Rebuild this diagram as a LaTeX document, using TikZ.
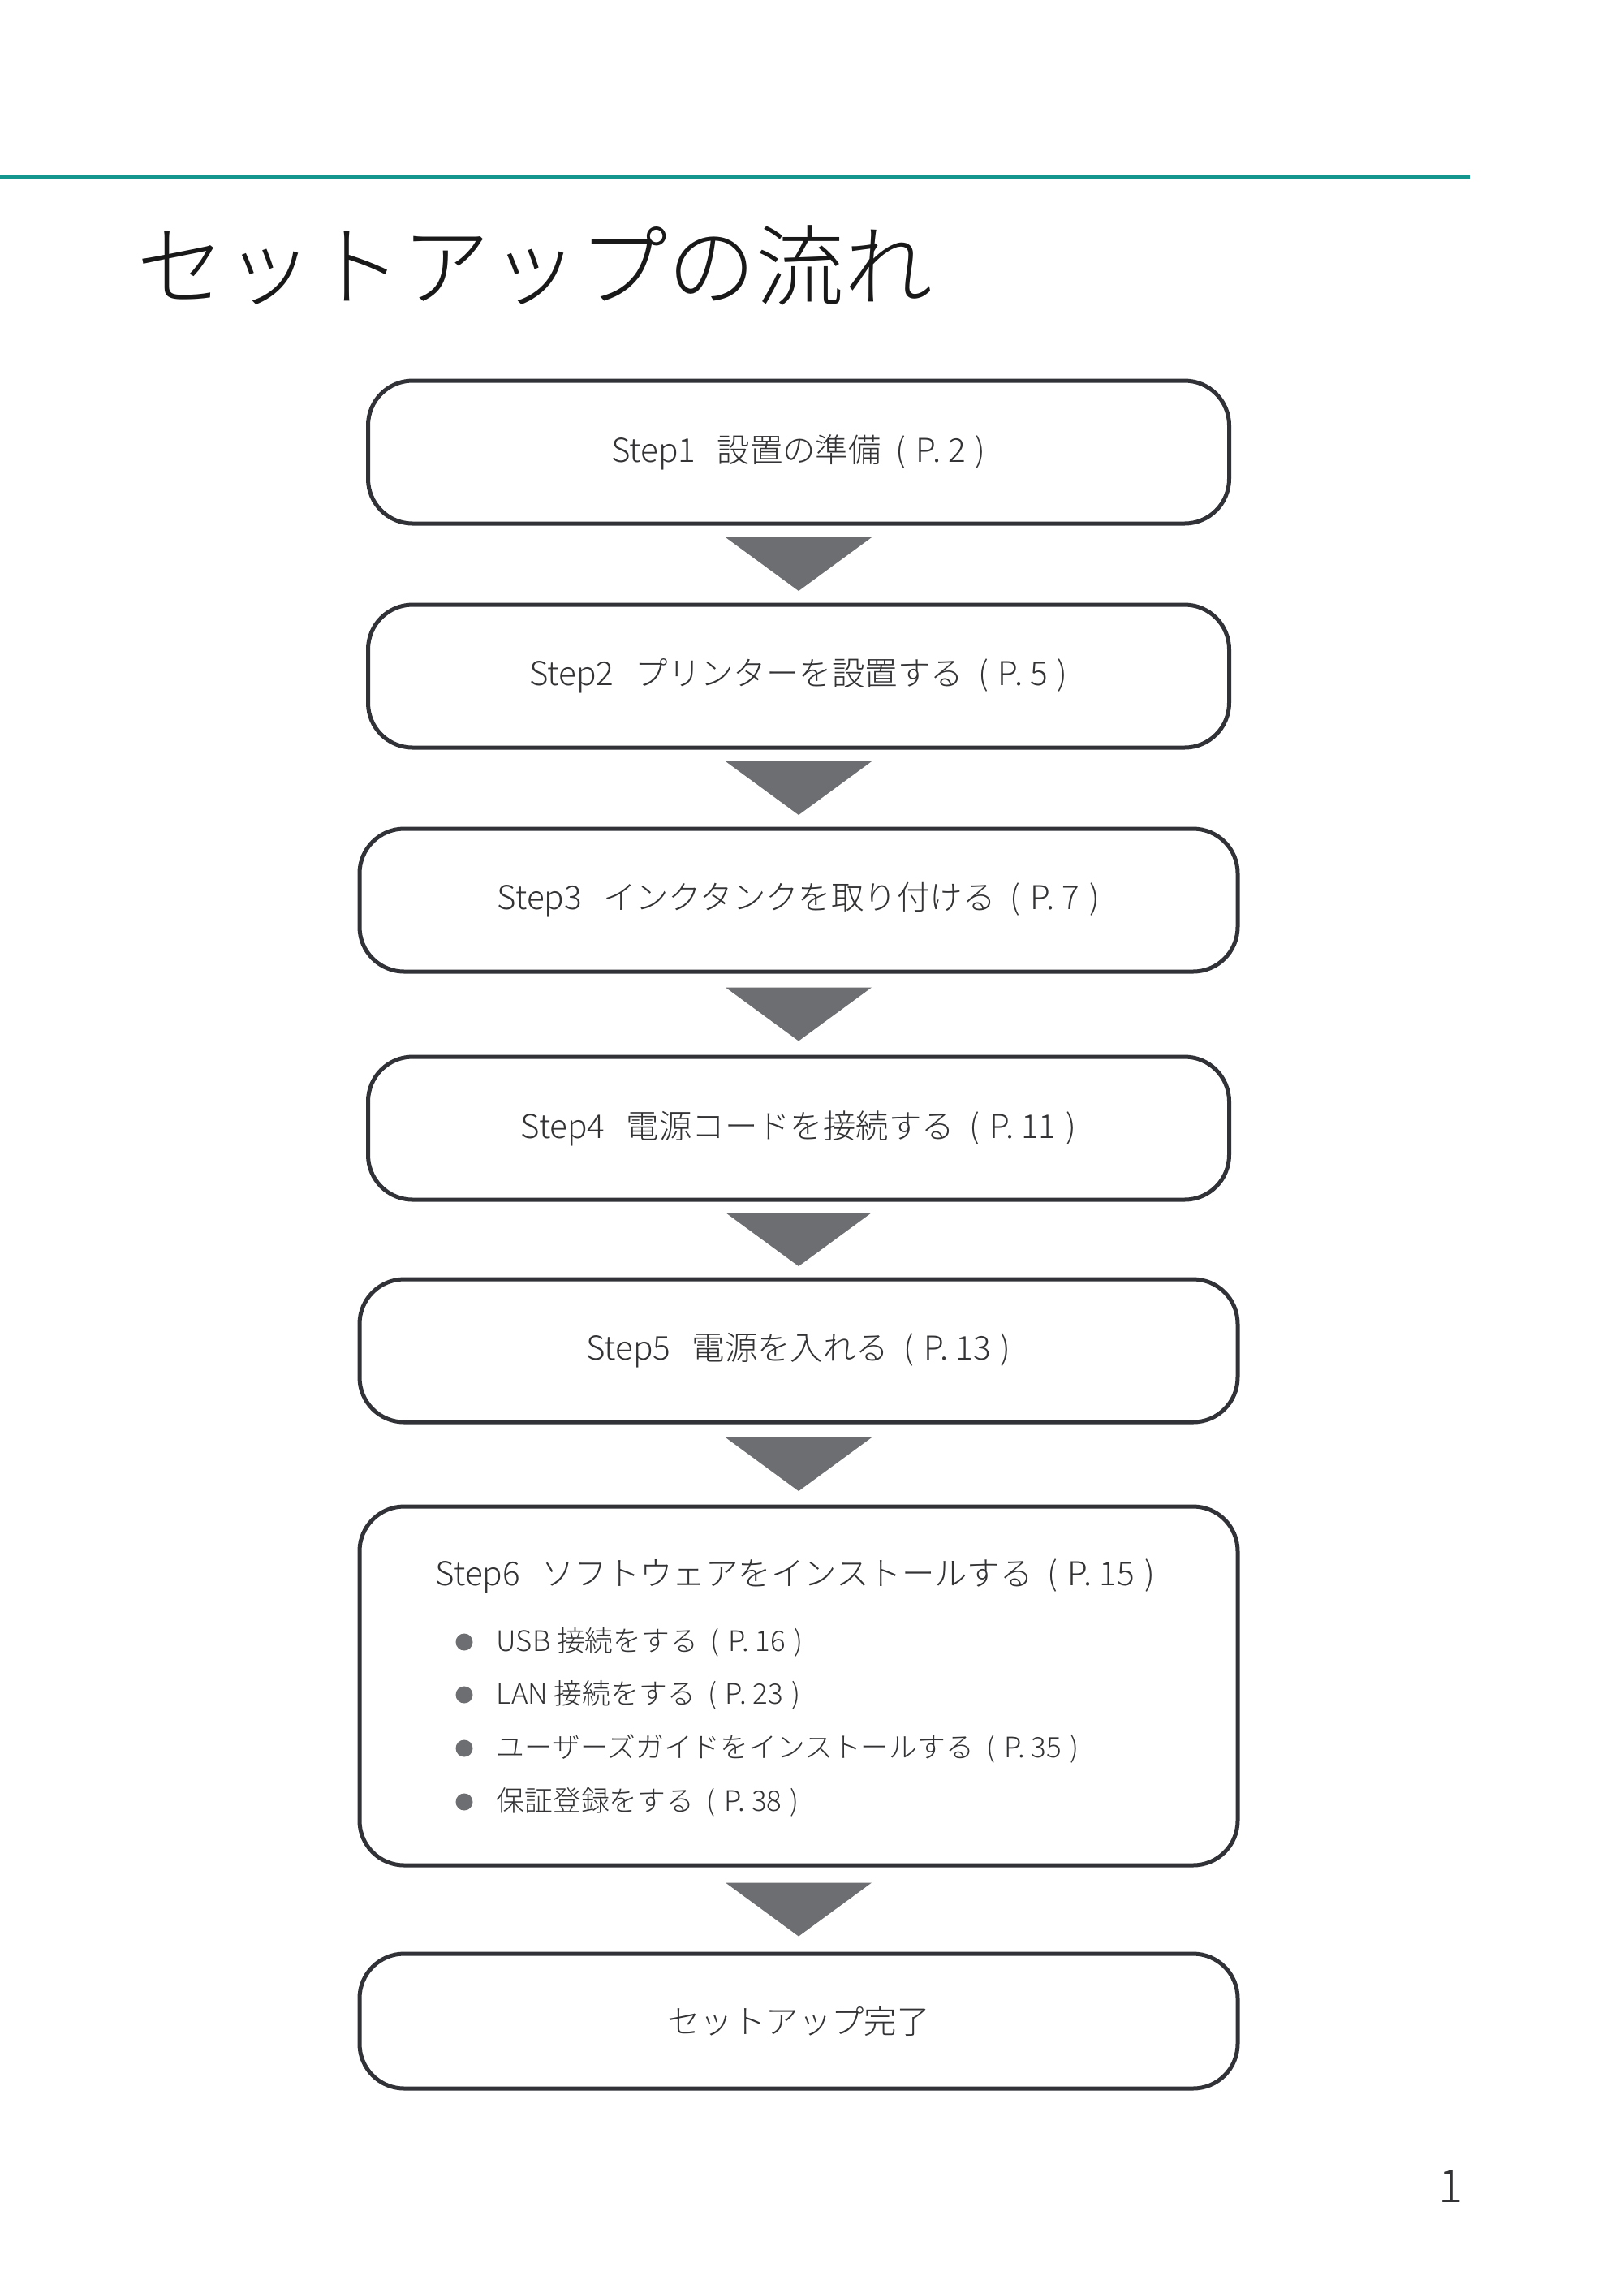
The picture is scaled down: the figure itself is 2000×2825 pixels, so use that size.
\documentclass[tikz,border=0pt]{standalone}
\usepackage{fontspec}
\setmainfont{Noto Sans CJK JP Light}
\usetikzlibrary{calc}

\definecolor{tealrule}{HTML}{14968F}
\definecolor{boxline}{HTML}{313237}
\definecolor{arrowgray}{HTML}{6D6E71}
\definecolor{textgray}{HTML}{333336}
\newcommand{\titlesize}{\fontsize{31pt}{36pt}\selectfont}
\newcommand{\stepsize}{\fontsize{11.5pt}{14pt}\selectfont}
\newcommand{\itemsize}{\fontsize{9.9pt}{12pt}\selectfont}
\newcommand{\pagesize}{\fontsize{16pt}{18pt}\selectfont}
\newcommand{\pg}[1]{\hspace{0.45em}(\hspace{0.3em}P. #1\hspace{0.3em})}
\newcommand{\stepno}[1]{Step#1\hspace{0.65em}}

\begin{document}
\begin{tikzpicture}[x=0.1mm, y=-0.1mm, line join=round,
        stepbox/.style={draw=boxline, fill=white, line width=0.5mm, rounded corners=5.5mm, minimum width=106.1mm, minimum height=17.6mm, inner sep=0pt, text=textgray, font=\stepsize},
        widebox/.style={stepbox, minimum width=108.2mm},
        flowarrow/.style={fill=arrowgray},
        bulletdot/.style={circle, fill=arrowgray, minimum size=2.1mm, inner sep=0pt},
        itemtext/.style={anchor=west, inner sep=0pt, text=textgray, font=\itemsize}]
        \fill[white] (0,0) rectangle (2000,2825);
        \useasboundingbox (0,0) rectangle (2000,2825);

        \draw[tealrule, line width=0.6mm] (0,218) -- (1811,218);
        \node[anchor=base west, inner sep=0pt, text=black!90, font=\titlesize] (title) at (168,368) {セットアップの流れ};

        \node[stepbox] (s1) at (984,557) {\stepno{1}設置の準備\pg{2}};
        \node[stepbox] (s2) at (984,833) {\stepno{2}プリンターを設置する\pg{5}};
        \node[widebox] (s3) at (984,1109) {\stepno{3}インクタンクを取り付ける\pg{7}};
        \node[stepbox] (s4) at (984,1390) {\stepno{4}電源コードを接続する\pg{11}};
        \node[widebox] (s5) at (984,1664) {\stepno{5}電源を入れる\pg{13}};
        \node[widebox, minimum height=44.2mm] (s6) at (984,2077) {};
        \node[widebox, minimum height=16.6mm] (s7) at (984,2490) {セットアップ完了};

        \node[anchor=base, inner sep=0pt, text=textgray, font=\stepsize] (t6) at ($(s6.north)+(-4,100)$) {\stepno{6}ソフトウェアをインストールする\pg{15}};

        \node[bulletdot] (d1) at (572,2023) {};
        \node[bulletdot] (d2) at (572,2088) {};
        \node[bulletdot] (d3) at (572,2154) {};
        \node[bulletdot] (d4) at (572,2220) {};
        \node[itemtext] (i1) at (611,2023) {USB 接続をする\pg{16}};
        \node[itemtext] (i2) at (611,2088) {LAN 接続をする\pg{23}};
        \node[itemtext] (i3) at (611,2154) {ユーザーズガイドをインストールする\pg{35}};
        \node[itemtext] (i4) at (611,2220) {保証登録をする\pg{38}};

        \fill[flowarrow] ($(s1.south)!.5!(s2.north)+(-90,-33)$) -- ++(180,0) -- ($(s1.south)!.5!(s2.north)+(0,33)$) -- cycle;
        \fill[flowarrow] ($(s2.south)!.5!(s3.north)+(-90,-33)$) -- ++(180,0) -- ($(s2.south)!.5!(s3.north)+(0,33)$) -- cycle;
        \fill[flowarrow] ($(s3.south)!.5!(s4.north)+(-90,-33)$) -- ++(180,0) -- ($(s3.south)!.5!(s4.north)+(0,33)$) -- cycle;
        \fill[flowarrow] ($(s4.south)!.5!(s5.north)+(-90,-33)$) -- ++(180,0) -- ($(s4.south)!.5!(s5.north)+(0,33)$) -- cycle;
        \fill[flowarrow] ($(s5.south)!.5!(s6.north)+(-90,-33)$) -- ++(180,0) -- ($(s5.south)!.5!(s6.north)+(0,33)$) -- cycle;
        \fill[flowarrow] ($(s6.south)!.5!(s7.north)+(-90,-33)$) -- ++(180,0) -- ($(s6.south)!.5!(s7.north)+(0,33)$) -- cycle;

        \node[anchor=base west, inner sep=0pt, text=textgray, font=\pagesize] (pagenum) at (1772,2713) {1};
    \end{tikzpicture}
\end{document}
